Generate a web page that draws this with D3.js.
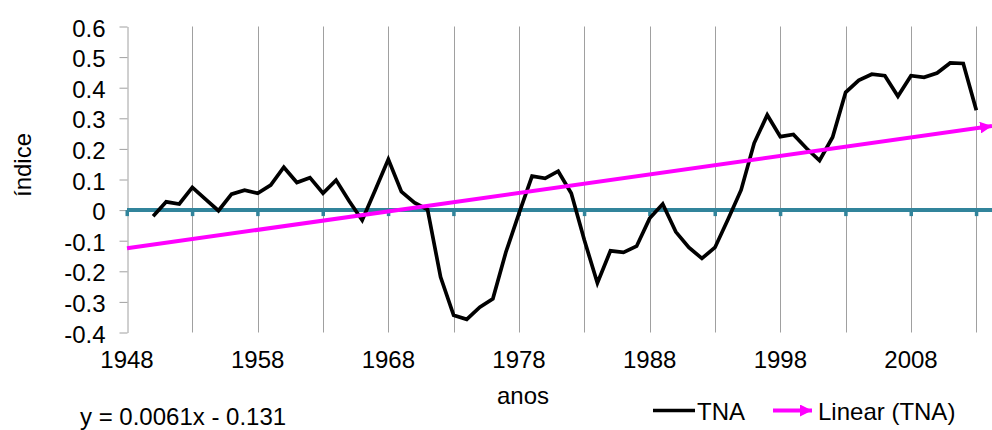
<!DOCTYPE html>
<html>
<head>
<meta charset="utf-8">
<script src="https://cdn.jsdelivr.net/npm/d3@7"></script>
<style>
  html, body { margin: 0; padding: 0; background: #fff; }
  svg { display: block; }
  text { font-family: "Liberation Sans", Arial, sans-serif; fill: #000; }
</style>
</head>
<body>
<svg id="chart" width="992" height="430"></svg>
<script>
// ---- data ----
const years = [1950,1951,1952,1953,1954,1955,1956,1957,1958,1959,
  1960,1961,1962,1963,1964,1965,1966,1967,1968,1969,
  1970,1971,1972,1973,1974,1975,1976,1977,1978,1979,
  1980,1981,1982,1983,1984,1985,1986,1987,1988,1989,
  1990,1991,1992,1993,1994,1995,1996,1997,1998,1999,
  2000,2001,2002,2003,2004,2005,2006,2007,2008,2009,
  2010,2011,2012,2013];
const tna = [-0.02,0.027,0.02,0.074,0.036,-0.002,0.052,0.065,0.055,0.082,
  0.14,0.09,0.106,0.055,0.098,0.03,-0.033,0.066,0.166,0.06,
  0.024,0.002,-0.219,-0.344,-0.357,-0.317,-0.29,-0.137,-0.011,0.111,
  0.104,0.127,0.055,-0.098,-0.238,-0.133,-0.138,-0.118,-0.027,0.02,
  -0.071,-0.122,-0.158,-0.122,-0.03,0.066,0.219,0.311,0.24,0.247,
  0.202,0.162,0.238,0.385,0.424,0.444,0.439,0.372,0.439,0.434,
  0.448,0.481,0.479,0.326];
const trendYears = [1948, 2014.2];
const trendValues = [-0.125, 0.275];
const xLabelYears = [1948,1958,1968,1978,1988,1998,2008];
const gridYears = [1953,1958,1963,1968,1973,1978,1983,1988,1993,1998,2003,2008,2013];
const yTicks = [0.6,0.5,0.4,0.3,0.2,0.1,0,-0.1,-0.2,-0.3,-0.4];
const yTickLabels = ["0.6","0.5","0.4","0.3","0.2","0.1","0","-0.1","-0.2","-0.3","-0.4"];
const xTitle = "anos";
const yTitle = "índice";
const equation = "y = 0.0061x - 0.131";
const legendLabels = ["TNA", "Linear (TNA)"];

// ---- chart ----
const svg = d3.select("#chart");
const x = d3.scaleLinear().domain([1948, 2014.2]).range([127, 992]);
const y = d3.scaleLinear().domain([-0.4, 0.6]).range([332.5, 26.5]);
const FS = 24;

// vertical gridlines
svg.append("g").selectAll("line").data(gridYears).join("line")
  .attr("x1", d => Math.round(x(d)) + 0.5).attr("x2", d => Math.round(x(d)) + 0.5)
  .attr("y1", y(0.6)).attr("y2", y(-0.4))
  .attr("stroke", "#a0a0a0").attr("stroke-width", 1);

// y axis
const yAxis = svg.append("g").attr("transform", "translate(127.5,0)")
  .call(d3.axisLeft(y).tickValues(yTicks).tickSize(8).tickSizeOuter(0)
    .tickFormat((d, i) => yTickLabels[i]));
yAxis.select(".domain").attr("stroke", "#a0a0a0");
yAxis.selectAll(".tick line").attr("stroke", "#a0a0a0");
yAxis.selectAll(".tick text")
  .attr("x", -22).attr("dy", null).attr("y", 9.5)
  .style("font-size", FS + "px").style("font-family", "Liberation Sans, Arial, sans-serif")
  .attr("fill", "#000");

// x labels at bottom
svg.append("g").selectAll("text").data(xLabelYears).join("text")
  .attr("x", d => x(d)).attr("y", 368)
  .attr("text-anchor", "middle").style("font-size", FS + "px")
  .text(d => d);

// zero axis (teal) with tick marks
const teal = "#31849B";
svg.append("g").selectAll("rect").data(gridYears.concat([1948])).join("rect")
  .attr("x", d => x(d) - 1.5).attr("y", y(0)).attr("width", 3.5).attr("height", 6)
  .attr("fill", teal);
svg.append("line")
  .attr("x1", x(1948)).attr("x2", 992)
  .attr("y1", y(0)).attr("y2", y(0))
  .attr("stroke", teal).attr("stroke-width", 4);

// TNA line
svg.append("path")
  .datum(years.map((yr, i) => [yr, tna[i]]))
  .attr("d", d3.line().x(d => x(d[0])).y(d => y(d[1])))
  .attr("fill", "none").attr("stroke", "#000").attr("stroke-width", 3.7)
  .attr("stroke-linejoin", "miter");

// arrow marker
const defs = svg.append("defs");
defs.append("marker").attr("id", "arrow")
  .attr("viewBox", "0 0 10 10").attr("refX", 10).attr("refY", 5)
  .attr("markerUnits", "userSpaceOnUse")
  .attr("markerWidth", 12).attr("markerHeight", 12).attr("orient", "auto")
  .append("path").attr("d", "M0,0 L10,5 L0,10 Z").attr("fill", "#FF00FF");

// trend line
svg.append("path")
  .datum(trendYears.map((yr, i) => [yr, trendValues[i]]))
  .attr("d", d3.line().x(d => x(d[0])).y(d => y(d[1])))
  .attr("fill", "none").attr("stroke", "#FF00FF").attr("stroke-width", 4)
  .attr("marker-end", "url(#arrow)");

// axis titles
svg.append("text").attr("x", 523).attr("y", 404)
  .attr("text-anchor", "middle").style("font-size", FS + "px").text(xTitle);
svg.append("text").attr("transform", "translate(31,165) rotate(-90)")
  .attr("text-anchor", "middle").style("font-size", FS + "px").text(yTitle);

// equation
svg.append("text").attr("x", 80).attr("y", 425)
  .style("font-size", FS + "px").text(equation);

// legend
const lg = svg.append("g");
lg.append("line").attr("x1", 653).attr("x2", 695).attr("y1", 410.5).attr("y2", 410.5)
  .attr("stroke", "#000").attr("stroke-width", 3.5);
lg.append("text").attr("x", 697).attr("y", 419.5).style("font-size", FS + "px").text(legendLabels[0]);
lg.append("line").attr("x1", 773).attr("x2", 812).attr("y1", 410.5).attr("y2", 410.5)
  .attr("stroke", "#FF00FF").attr("stroke-width", 4).attr("marker-end", "url(#arrow)");
lg.append("text").attr("x", 818).attr("y", 419.5).style("font-size", FS + "px").text(legendLabels[1]);
</script>
</body>
</html>
